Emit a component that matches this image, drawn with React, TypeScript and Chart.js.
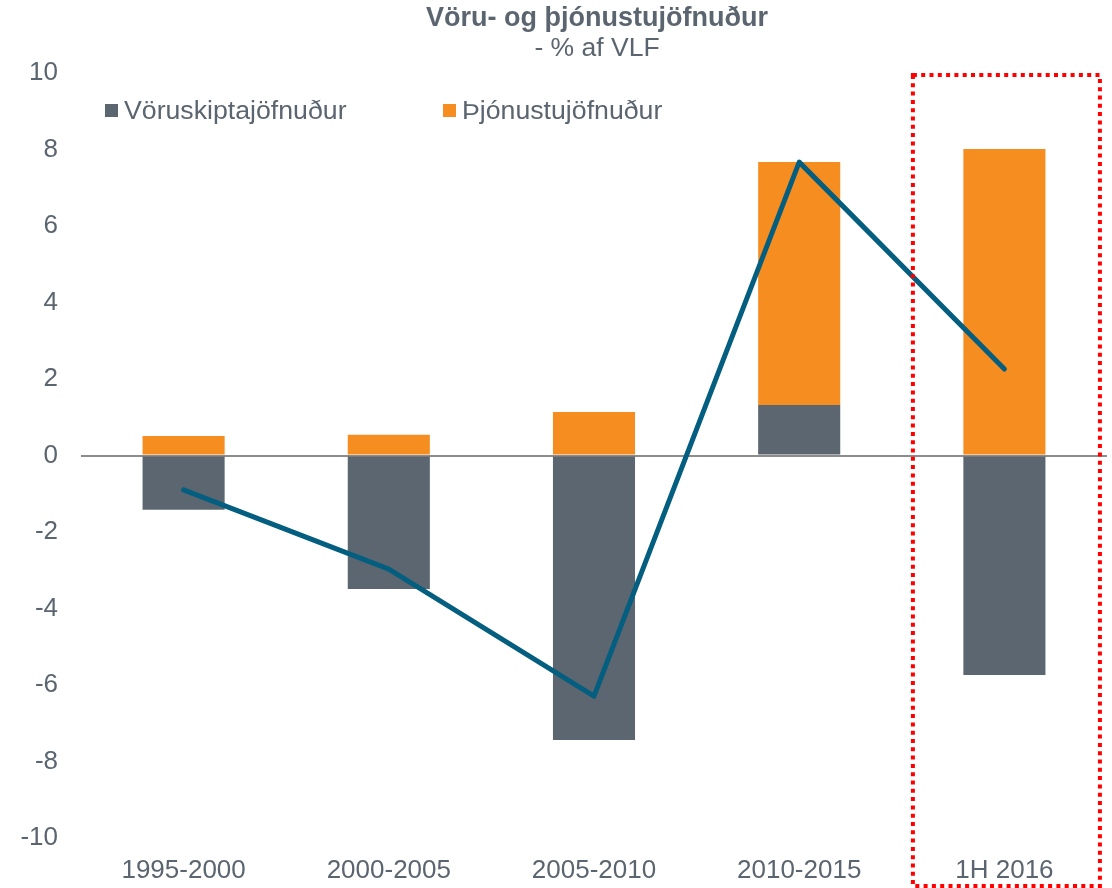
import React, { useEffect, useRef } from "react";
import { Chart, registerables } from "chart.js";

Chart.register(...registerables);

const categories = ["1995-2000", "2000-2005", "2005-2010", "2010-2015", "1H 2016"];
const goodsBalance = [-1.42, -3.49, -7.44, 1.32, -5.74];
const servicesBalance = [0.51, 0.54, 1.14, 6.35, 8.01];
const totalBalance = [-0.9, -2.97, -6.29, 7.67, 2.26];
const yTicks = [-10, -8, -6, -4, -2, 0, 2, 4, 6, 8, 10];

const titleText = "Vöru- og þjónustujöfnuður";
const subtitleText = "- % af VLF";
const goodsLabel = "Vöruskiptajöfnuður";
const servicesLabel = "Þjónustujöfnuður";
const highlightCategory = "1H 2016";

const GRAY = "#5b6670";
const ORANGE = "#f68d20";
const BLUE = "#045e80";
const TEXT = "#5b6570";
const FONT = "'Liberation Sans', Arial, sans-serif";

const highlightPlugin = {
  id: "highlightBox",
  afterDatasetsDraw(chart: any) {
    const { ctx } = chart;
    const x = chart.scales.x;
    const y = chart.scales.y;
    const idx = categories.indexOf(highlightCategory);
    const xc = x.getPixelForValue(idx);
    const left = xc - 91.5;
    const right = xc + 95.5;
    const top = y.getPixelForValue(yTicks[yTicks.length - 1]) + 2;
    const bottom = chart.height - 2;
    ctx.save();
    ctx.strokeStyle = "#ff0000";
    ctx.lineWidth = 4;
    ctx.setLineDash([4, 4.3]);
    ctx.strokeRect(left, top, right - left, bottom - top);
    ctx.restore();
  },
};

export default function App() {
  const canvasRef = useRef<HTMLCanvasElement | null>(null);

  useEffect(() => {
    const chart = new Chart(canvasRef.current as HTMLCanvasElement, {
      type: "bar",
      data: {
        labels: categories,
        datasets: [
          {
            type: "line",
            label: "Total",
            data: totalBalance,
            borderColor: BLUE,
            borderWidth: 5,
            pointRadius: 0,
            borderCapStyle: "round",
            borderJoinStyle: "round",
            tension: 0,
            stack: "line",
            order: 0,
          } as any,
          {
            type: "bar",
            label: goodsLabel,
            data: goodsBalance,
            backgroundColor: GRAY,
            stack: "bars",
            order: 1,
            categoryPercentage: 1,
            barPercentage: 0.4,
          },
          {
            type: "bar",
            label: servicesLabel,
            data: servicesBalance,
            backgroundColor: ORANGE,
            stack: "bars",
            order: 1,
            categoryPercentage: 1,
            barPercentage: 0.4,
          },
        ],
      },
      options: {
        animation: false,
        responsive: true,
        maintainAspectRatio: false,
        layout: { padding: { left: 0, right: 5, top: 73, bottom: 0 } },
        plugins: {
          legend: { display: false },
          title: { display: false },
          tooltip: { enabled: false },
        },
        scales: {
          x: {
            stacked: true,
            grid: { display: false, drawTicks: false },
            border: { display: false },
            ticks: {
              color: TEXT,
              font: { family: FONT, size: 26 },
              padding: 17,
              maxRotation: 0,
            },
            afterFit(s: any) {
              s.height = 50;
            },
          },
          y: {
            stacked: true,
            min: -10,
            max: 10,
            afterBuildTicks(s: any) {
              s.ticks = yTicks.map((v) => ({ value: v }));
            },
            grid: {
              drawTicks: false,
              color: (c: any) => (c.tick && c.tick.value === 0 ? "#8c8c8c" : "rgba(0,0,0,0)"),
              lineWidth: 2,
            },
            border: { display: false },
            ticks: {
              color: TEXT,
              font: { family: FONT, size: 26 },
              padding: 23,
            },
            afterFit(s: any) {
              s.width = 81;
            },
          },
        },
      },
      plugins: [highlightPlugin],
    });
    return () => chart.destroy();
  }, []);

  return (
    <div
      style={{
        position: "fixed",
        left: 0,
        top: 0,
        width: 1112,
        height: 888,
        background: "#ffffff",
        fontFamily: FONT,
      }}
    >
      <canvas ref={canvasRef} />
      <div
        style={{
          position: "absolute",
          left: 397,
          width: 400,
          top: 3,
          textAlign: "center",
          color: TEXT,
          fontWeight: "bold",
          fontSize: 27,
          lineHeight: "29px",
        }}
      >
        {titleText}
      </div>
      <div
        style={{
          position: "absolute",
          left: 397,
          width: 400,
          top: 33,
          textAlign: "center",
          color: TEXT,
          fontSize: 26.5,
          lineHeight: "29px",
        }}
      >
        {subtitleText}
      </div>
      <div style={{ position: "absolute", left: 105, top: 96, display: "flex", alignItems: "center", color: TEXT, fontSize: 26.7, lineHeight: "29px" }}>
        <span style={{ display: "inline-block", width: 13, height: 13, background: GRAY, marginRight: 6 }} />
        <span>{goodsLabel}</span>
      </div>
      <div style={{ position: "absolute", left: 443, top: 96, display: "flex", alignItems: "center", color: TEXT, fontSize: 26.7, lineHeight: "29px" }}>
        <span style={{ display: "inline-block", width: 13, height: 13, background: ORANGE, marginRight: 6 }} />
        <span>{servicesLabel}</span>
      </div>
    </div>
  );
}
